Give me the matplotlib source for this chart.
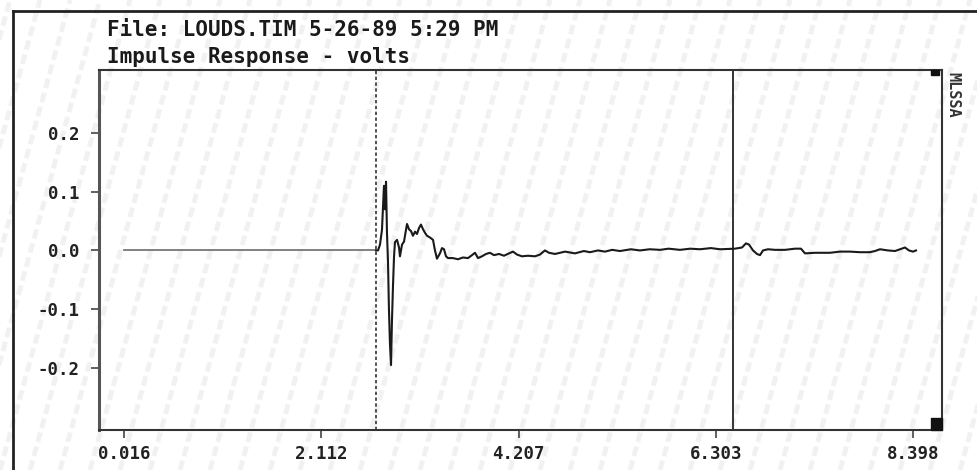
import matplotlib
matplotlib.use("Agg")
import matplotlib.pyplot as plt
from matplotlib.lines import Line2D
from matplotlib.patches import Rectangle

# ---- data (time in ms, amplitude in volts) ----
pre_t = [0.016, 2.693]
pre_v = [0.0, 0.0]

sig_t = [2.693, 2.714, 2.735, 2.756, 2.777, 2.788, 2.799, 2.809, 2.820, 2.830,
         2.841, 2.852, 2.862, 2.873, 2.884, 2.894, 2.916, 2.937, 2.947, 2.969,
         2.990, 3.011, 3.022, 3.043, 3.064, 3.085, 3.107, 3.128, 3.149, 3.170,
         3.192, 3.213, 3.234, 3.266, 3.298, 3.319, 3.340, 3.372, 3.393, 3.415,
         3.436, 3.457, 3.510, 3.563, 3.616, 3.670, 3.712, 3.744, 3.776, 3.818,
         3.861, 3.903, 3.946, 3.999, 4.052, 4.105, 4.148, 4.190, 4.243, 4.307,
         4.381, 4.434, 4.487, 4.530, 4.594, 4.700, 4.806, 4.900, 4.965, 5.050,
         5.125, 5.200, 5.284, 5.400, 5.496, 5.600, 5.709, 5.800, 5.921, 6.030,
         6.134, 6.250, 6.346, 6.505, 6.580, 6.622, 6.654, 6.697,
         6.739, 6.771, 6.803, 6.856, 6.930, 7.036, 7.143, 7.206, 7.249, 7.355,
         7.514, 7.621, 7.727, 7.833, 7.939, 7.992, 8.045, 8.130, 8.205, 8.258,
         8.311, 8.353, 8.396, 8.428]
sig_v = [0.0, 0.0, 0.010, 0.035, 0.110, 0.070, 0.117, 0.030, -0.020, -0.100,
         -0.160, -0.195, -0.120, -0.060, -0.010, 0.014, 0.018, 0.005, -0.010, 0.010,
         0.015, 0.035, 0.045, 0.036, 0.033, 0.025, 0.032, 0.028, 0.038, 0.044,
         0.036, 0.030, 0.025, 0.022, 0.018, 0.000, -0.014, -0.005, 0.004, 0.002,
         -0.010, -0.013, -0.013, -0.015, -0.012, -0.013, -0.008, -0.004, -0.013, -0.010,
         -0.006, -0.004, -0.008, -0.006, -0.009, -0.005, -0.002, -0.007, -0.010, -0.009,
         -0.010, -0.007, 0.000, -0.004, -0.006, -0.002, -0.005, -0.001, -0.003, 0.000,
         -0.002, 0.001, -0.001, 0.002, 0.000, 0.002, 0.001, 0.003, 0.001, 0.003,
         0.002, 0.004, 0.002, 0.003, 0.005, 0.012, 0.010, 0.000,
         -0.006, -0.008, 0.000, 0.002, 0.001, 0.001, 0.003, 0.003, -0.005, -0.004,
         -0.004, -0.002, -0.002, -0.003, -0.003, -0.001, 0.002, 0.000, -0.001, 0.002,
         0.005, 0.000, -0.002, 0.000]

cursor_dashed = 2.693
cursor_solid = 6.484

x_ticks = [0.016, 2.112, 4.207, 6.303, 8.398]
x_ticklabels = ["0.016", "2.112", "4.207", "6.303", "8.398"]
y_ticks = [0.2, 0.1, 0.0, -0.1, -0.2]
y_ticklabels = ["0.2", "0.1", "0.0", "-0.1", "-0.2"]

title1 = "File: LOUDS.TIM 5-26-89 5:29 PM"
title2 = "Impulse Response - volts"

# ---- figure ----
W, H = 978, 470
fig = plt.figure(figsize=(W / 100, H / 100), dpi=100)
fig.patch.set_facecolor("white")

# faint diagonal scan texture
for k in range(-10, 45):
    x0 = k * 30
    fig.add_artist(Line2D([x0 / W, (x0 + 130) / W], [0, 1],
                          transform=fig.transFigure, color="#f1f1f1",
                          lw=3.5, ls=(0, (2, 1)), zorder=0))

# outer frame (left and top edges)
fig.add_artist(Line2D([13 / W, 13 / W], [0, 1 - 11 / H], transform=fig.transFigure,
                      color="#222222", lw=2))
fig.add_artist(Line2D([13 / W, 1], [1 - 11 / H, 1 - 11 / H], transform=fig.transFigure,
                      color="#222222", lw=2))

ax = fig.add_axes([99 / W, 1 - 430 / H, (942 - 99) / W, (430 - 70) / H])
ax.set_facecolor("none")
ax.set_xlim(-0.2495, 8.704)
ax.set_ylim(-0.3055, 0.307)

ax.plot(pre_t, pre_v, color="#777777", lw=1.3, zorder=3)
ax.plot(sig_t, sig_v, color="#1a1a1a", lw=1.5, zorder=3)

ax.axvline(cursor_dashed, color="#333333", lw=1.2, ls=(0, (2, 1.5)), zorder=2)
ax.axvline(cursor_solid, color="#333333", lw=1.4, zorder=2)

mono = "DejaVu Sans Mono"
ax.set_xticks(x_ticks)
ax.set_xticklabels(x_ticklabels, fontfamily=mono, fontweight="bold",
                   fontsize=12.5, color="#222222")
ax.set_yticks(y_ticks)
ax.set_yticklabels(y_ticklabels, fontfamily=mono, fontweight="bold",
                   fontsize=12.5, color="#222222")
ax.tick_params(axis="x", direction="out", length=6, width=1.2, color="#444444", pad=5)
ax.tick_params(axis="y", direction="out", length=6, width=1.2, color="#444444", pad=8)

for side in ["top", "right", "bottom"]:
    ax.spines[side].set_color("#333333")
    ax.spines[side].set_linewidth(1.5)
ax.spines["left"].set_color("#555555")
ax.spines["left"].set_linewidth(2.2)

# marker blocks at right corners
ax.add_patch(Rectangle((0.987, 0.985), 0.009, 0.015, transform=ax.transAxes,
                       color="#111111", zorder=4, clip_on=False))
ax.add_patch(Rectangle((0.987, 0.0), 0.013, 0.033, transform=ax.transAxes,
                       color="#111111", zorder=4, clip_on=False))

fig.text(953 / W, 1 - 72 / H, "MLSSA", rotation=-90, ha="center", va="top",
         fontfamily=mono, fontweight="bold", fontsize=11, color="#333333")

fig.text(107 / W, 1 - 30 / H, title1, ha="left", va="center",
         fontfamily=mono, fontweight="bold", fontsize=15, color="#1a1a1a")
fig.text(107 / W, 1 - 57 / H, title2, ha="left", va="center",
         fontfamily=mono, fontweight="bold", fontsize=15, color="#1a1a1a")

fig.savefig("out.png", dpi=100, facecolor=fig.get_facecolor())
